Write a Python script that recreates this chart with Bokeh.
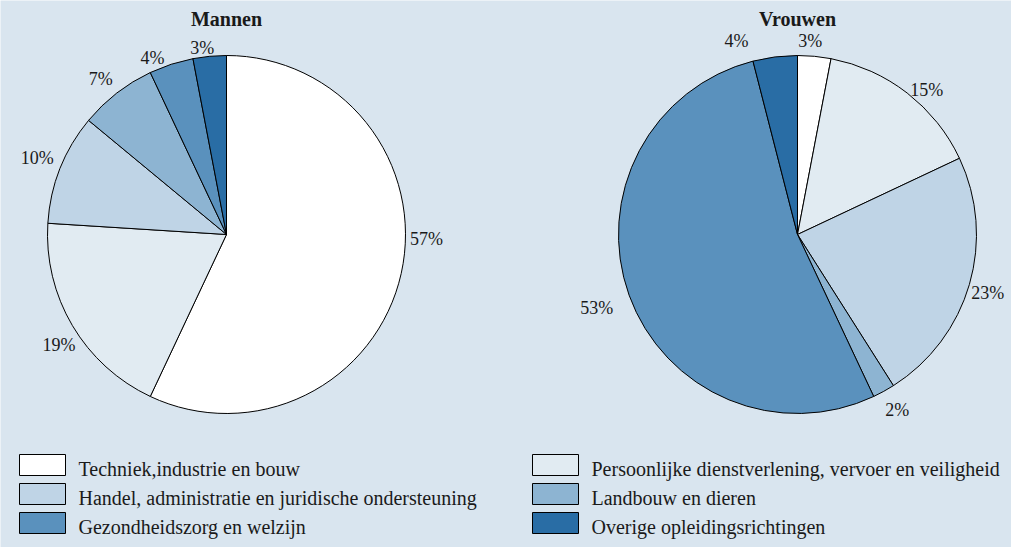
import math
from bokeh.plotting import figure
from bokeh.models import Range1d, ColumnDataSource
from bokeh.core.properties import value
from bokeh.embed import file_html
from bokeh.resources import INLINE

# ---- data ----
categories = [
    "Techniek,industrie en bouw",
    "Persoonlijke dienstverlening, vervoer en veiligheid",
    "Handel, administratie en juridische ondersteuning",
    "Landbouw en dieren",
    "Gezondheidszorg en welzijn",
    "Overige opleidingsrichtingen",
]
mannen = [57, 19, 10, 7, 4, 3]
vrouwen = [3, 15, 23, 2, 53, 4]
panel_titles = ["Mannen", "Vrouwen"]

# ---- style ----
colors = ["#FFFFFF", "#E1EBF2", "#BFD4E6", "#8DB4D2", "#5A91BD", "#296DA5"]
BG = "#D9E5EF"
TXT = "#1A1A1A"
FONT = "Liberation Serif"
# label placement tweaks per panel: angular shift (deg) and distance from centre (px)
label_shift = [[11.3, 2.9, -0.4, 1.2, 4.8, 2.0], [1.6, -4.0, -0.8, 0.8, 0.4, 10.3]]
label_dist = [[200, 201, 204, 200, 191, 188], [194, 194, 199, 202, 214, 203]]

W, H = 1011, 547
p = figure(width=W, height=H, output_backend="svg", toolbar_location=None,
           x_range=Range1d(0, W), y_range=Range1d(0, H), min_border=0)
p.axis.visible = False
p.grid.visible = False
p.outline_line_color = None
p.background_fill_color = BG
p.border_fill_color = BG

R = 179
centers = [(226, 313), (797, 313)]

for k, (vals, (cx, cy)) in enumerate(zip([mannen, vrouwen], centers)):
    total = float(sum(vals))
    starts, ends, lx, ly, lt = [], [], [], [], []
    cum = 0.0
    for i, v in enumerate(vals):
        a0 = math.pi / 2 - 2 * math.pi * cum / total
        cum += v
        a1 = math.pi / 2 - 2 * math.pi * cum / total
        starts.append(a0)
        ends.append(a1)
        mid = (a0 + a1) / 2 + math.radians(label_shift[k][i])
        rl = label_dist[k][i]
        lx.append(cx + rl * math.cos(mid))
        ly.append(cy + rl * math.sin(mid))
        lt.append(f"{v}%")
    src = ColumnDataSource(dict(s=starts, e=ends, c=colors))
    p.wedge(x=cx, y=cy, radius=R, start_angle="s", end_angle="e", direction="clock",
            fill_color="c", line_color="#000000", line_width=1, source=src)
    p.text(x=lx, y=ly, text=lt, text_align="center", text_baseline="middle",
           text_font=value(FONT), text_font_size="18px", text_color=TXT)
    p.text(x=[cx], y=[529], text=[panel_titles[k]], text_align="center",
           text_baseline="middle", text_font=value(FONT), text_font_style="bold",
           text_font_size="20px", text_color=TXT)

# ---- legend ----
bx, by, tx, ty = [], [], [], []
for i, name in enumerate(categories):
    col, row = i % 2, i // 2
    x0 = 19 if col == 0 else 532
    yc = 82.5 - row * 29
    bx.append(x0 + 23)
    by.append(yc)
    tx.append(x0 + 59)
    ty.append(yc - 4)
p.rect(x=bx, y=by, width=46, height=21, fill_color=colors, line_color="#000000", line_width=1)
p.text(x=tx, y=ty, text=categories, text_align="left", text_baseline="middle",
       text_font=value(FONT), text_font_size="20px", text_color=TXT)

open("out.html", "w").write(file_html(p, INLINE))
